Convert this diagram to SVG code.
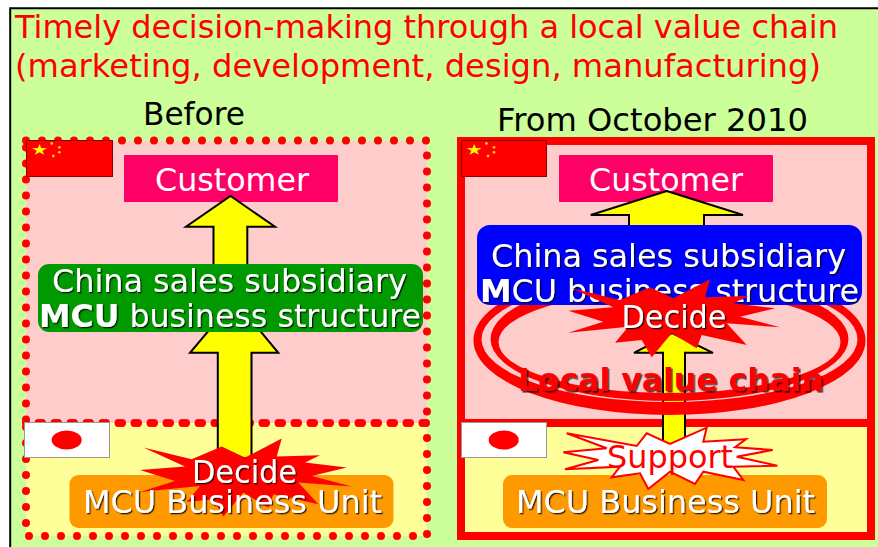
<svg xmlns="http://www.w3.org/2000/svg" width="878" height="547" viewBox="0 0 878 547">
<defs>
<filter id="sh" x="-5%" y="-20%" width="110%" height="140%"><feDropShadow dx="1.300" dy="1.300" stdDeviation="0" flood-color="#000" flood-opacity="0.8"/></filter>
<filter id="sh2" x="-5%" y="-20%" width="110%" height="140%"><feDropShadow dx="1.600" dy="1.600" stdDeviation="0" flood-color="#000" flood-opacity="0.7"/></filter>
<polygon id="burst" points="571.700,288.300 620,300 650,287.300 673.300,298.300 710,279.300 705,297.300 748.300,296 733.300,303.300 775,308.300 740,316.700 780,327.300 726.700,323.300 746.700,345 701.700,335 696.700,348.300 671.700,333.300 651.700,357.300 641.700,340 615,342.700 628.300,326.700 568.300,332.700 603.300,321.700 568.300,310.700 613.300,307.300"/>
<g id="cnstars">
<polygon points="39.500,144 41.260,148.200 47.100,148.100 42.350,150.700 44.200,154.850 39.500,152.250 34.800,154.850 36.650,150.700 31.900,148.100 37.740,148.200" fill="#ff0"/>
<circle cx="51.700" cy="143.500" r="1.400" fill="#fc0"/><circle cx="59.300" cy="147.300" r="1.400" fill="#fc0"/><circle cx="59.300" cy="152.300" r="1.400" fill="#fc0"/><circle cx="53.300" cy="156" r="1.400" fill="#fc0"/>
</g>
</defs>
<style>
text{font-family:"DejaVu Sans",Verdana,sans-serif;font-size:32.5px}
.w{fill:#fff;filter:url(#sh)}
.plain{fill:#fff}
.title{fill:#f00}
.head{fill:#000}
.arrow{fill:#ff0;stroke:#000;stroke-width:2;stroke-linejoin:miter}
.pink{fill:#fcc}
.cream{fill:#ff9}
.dot{fill:none;stroke:#f00;stroke-width:8;stroke-linecap:round;stroke-dasharray:0 16}
.solid{fill:none;stroke:#f00;stroke-width:8}
.cust{fill:#f06}
.unit{fill:#f90}
.cn{fill:#f00;stroke:#800;stroke-width:1}
.jp{fill:#fff;stroke:#999;stroke-width:1}
.sun{fill:#f00}
.ring{fill:#f00;fill-rule:evenodd}
</style>
<rect width="878" height="547" fill="#fff"/>
<rect x="10" y="8" width="868" height="539" fill="#cf9"/>
<path d="M10.200 547V8.200H878" fill="none" stroke="#000" stroke-width="2"/>
<g id="title">
<text class="title" x="15" y="38" textLength="823" lengthAdjust="spacingAndGlyphs">Timely decision-making through a local value chain</text>
<text class="title" x="15" y="77" textLength="806" lengthAdjust="spacingAndGlyphs">(marketing, development, design, manufacturing)</text>
</g>
<g id="before-panel">
<rect class="pink" x="26" y="141" width="401" height="282"/>
<rect class="cream" x="26" y="423" width="401" height="113"/>
<rect class="dot" x="26" y="140.500" width="401" height="282.500"/>
<rect class="dot" x="26" y="423" width="401" height="113"/>
<text class="head" x="143" y="125" textLength="102" lengthAdjust="spacingAndGlyphs">Before</text>
</g>
<g id="after-panel">
<rect class="pink" x="461" y="141" width="410" height="282"/>
<rect class="cream" x="461" y="423" width="410" height="113"/>
<rect class="solid" x="461" y="141" width="410" height="282"/>
<rect class="solid" x="461" y="423" width="410" height="113"/>
<text class="head" x="497" y="131" textLength="311" lengthAdjust="spacingAndGlyphs">From October 2010</text>
</g>
<g id="flag-cn-left">
<rect class="cn" x="26.500" y="140.500" width="86" height="36"/>
<use href="#cnstars"/>
</g>
<g id="flag-cn-right">
<rect class="cn" x="461.500" y="140.500" width="85" height="36"/>
<use href="#cnstars" x="434.700"/>
</g>
<g id="flag-jp-left">
<rect class="jp" x="24.500" y="422.500" width="85" height="35"/>
<ellipse class="sun" cx="66.700" cy="440" rx="15" ry="9.500"/>
</g>
<g id="flag-jp-right">
<rect class="jp" x="461.500" y="422.500" width="85" height="35"/>
<ellipse class="sun" cx="503.700" cy="440" rx="15" ry="9.500"/>
</g>
<g id="customer-left">
<rect class="cust" x="124" y="155" width="214" height="47" rx="1"/>
<text class="plain" x="155" y="191" textLength="154" lengthAdjust="spacingAndGlyphs">Customer</text>
</g>
<g id="customer-right">
<rect class="cust" x="559" y="155" width="214" height="47" rx="1"/>
<text class="plain" x="589" y="191" textLength="154" lengthAdjust="spacingAndGlyphs">Customer</text>
</g>
<g id="connectors">
<polygon class="arrow" points="230.500,196 275,226.800 247.300,226.800 247.300,266 213.500,266 213.500,226.800 186,226.800"/>
<polygon class="arrow" points="234.500,300 278.300,352.800 251.500,352.800 251.500,458 217.800,458 217.800,352.800 190,352.800"/>
<polygon class="arrow" points="666.700,191 743,215 704,215 704,228 629,228 629,215 590.700,215"/>
<polygon class="arrow" points="672,333 713,352.800 685,352.800 685,445 663,445 663,352.800 634,352.800"/>
</g>
<g id="local-value-chain">
<path class="ring" d="M473.500 340.400a196 74.600 0 1 0 392 0a196 74.600 0 1 0 -392 0ZM481.500 339.300a188 62.700 0 1 0 376 0a188 62.700 0 1 0 -376 0Z"/>
<path class="ring" d="M490.500 339a179 62 0 1 0 358 0a179 62 0 1 0 -358 0ZM498.500 342a171 51 0 1 0 342 0a171 51 0 1 0 -342 0Z"/>
<text x="518" y="391" fill="#f00" font-weight="bold" filter="url(#sh2)" textLength="306" lengthAdjust="spacingAndGlyphs">Local value chain</text>
</g>
<g id="china-left">
<rect x="38" y="264" width="385" height="68" rx="11" fill="#090"/>
<text class="w" x="52" y="292" textLength="355" lengthAdjust="spacingAndGlyphs">China sales subsidiary</text>
<text class="w" x="39" y="327" textLength="382" lengthAdjust="spacingAndGlyphs"><tspan font-weight="bold">MCU</tspan> business structure</text>
</g>
<g id="china-right">
<rect x="477" y="225" width="385" height="80" rx="13" fill="#00f"/>
<text class="w" x="491" y="267" textLength="355" lengthAdjust="spacingAndGlyphs">China sales subsidiary</text>
<text class="w" x="480" y="302" textLength="379" lengthAdjust="spacingAndGlyphs"><tspan font-weight="bold">M</tspan>CU business structure</text>
</g>
<g id="unit-right">
<rect class="unit" x="503" y="475" width="324" height="53" rx="9"/>
<text class="w" x="516" y="513" textLength="299" lengthAdjust="spacingAndGlyphs">MCU Business Unit</text>
</g>
<g id="unit-left">
<rect class="unit" x="69.500" y="475" width="324" height="53" rx="9"/>
<use href="#burst" x="-428.300" y="159.300" fill="#f00"/>
<text class="w" x="83" y="513" textLength="299" lengthAdjust="spacingAndGlyphs">MCU Business Unit</text>
</g>
<g id="decide-left">
<text class="w" x="192" y="483" textLength="105" lengthAdjust="spacingAndGlyphs">Decide</text>
</g>
<g id="decide-right">
<use href="#burst" fill="#f00"/>
<text class="w" x="621.500" y="328" textLength="105" lengthAdjust="spacingAndGlyphs">Decide</text>
</g>
<g id="support">
<polygon fill="#fff" stroke="#f00" stroke-width="2" points="566.700,433.300 636.700,446 646.700,433.300 670,444 706.700,427.700 703.300,441.700 746,439.300 735,447.300 772.700,450 736.700,456.700 777.300,465.700 733.300,466.700 743.300,480 703.300,471.700 695,484 670,471.700 648.300,489 640,473.300 611.700,477.300 620,466.700 565,469.300 598.300,460 563.300,452.300 606.700,448.300"/>
<text x="607" y="468" fill="#f00" textLength="126" lengthAdjust="spacingAndGlyphs">Support</text>
</g>
</svg>
